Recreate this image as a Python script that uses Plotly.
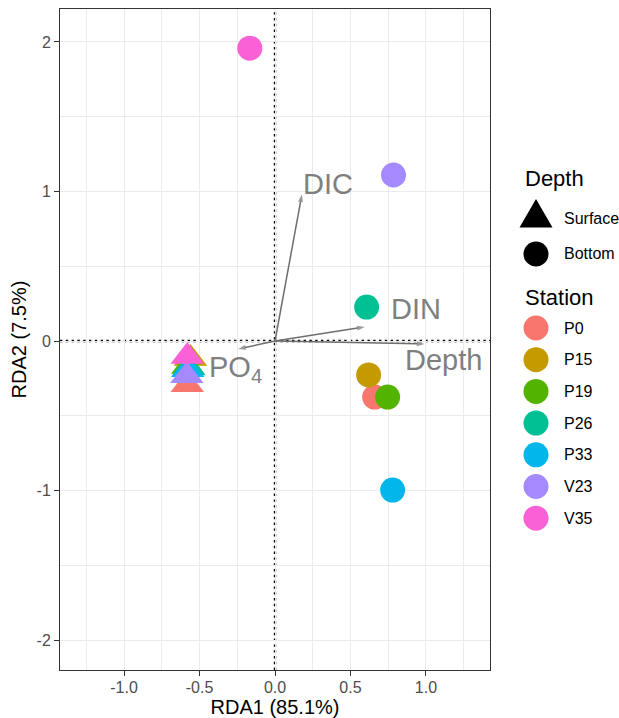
import plotly.graph_objects as go

# ---------------- data ----------------
stations = ["P0", "P15", "P19", "P26", "P33", "V23", "V35"]
station_colors = ["#F8766D", "#C49A00", "#53B400", "#00C094", "#00B6EB", "#A58AFF", "#FB61D7"]

surface_rda1 = [-0.581, -0.560, -0.578, -0.570, -0.578, -0.584, -0.581]
surface_rda2 = [-0.293, -0.117, -0.170, -0.180, -0.192, -0.232, -0.104]

bottom_rda1 = [0.660, 0.620, 0.746, 0.607, 0.779, 0.785, -0.167]
bottom_rda2 = [-0.375, -0.227, -0.375, 0.227, -0.997, 1.110, 1.958]

env_labels = ["DIC", "DIN", "Depth", "PO<sub>4</sub>"]
env_rda1 = [0.178, 0.594, 0.990, -0.244]
env_rda2 = [0.980, 0.094, -0.020, -0.054]
label_rda1 = [0.172, 0.755, 0.845, -0.452]
label_rda2 = [1.050, 0.217, -0.127, -0.190]

depth_levels = ["Surface", "Bottom"]
x_ticks = [-1.0, -0.5, 0.0, 0.5, 1.0]
y_ticks = [-2, -1, 0, 1, 2]

FONT = "Liberation Sans, Arial, sans-serif"
ARROW_COL = "#6E6E6E"

fig = go.Figure()

# environmental vectors (lines from origin with arrowheads)
for lab, ex, ey in zip(env_labels, env_rda1, env_rda2):
    fig.add_trace(go.Scatter(
        x=[0, ex], y=[0, ey], mode="lines+markers",
        line=dict(color=ARROW_COL, width=1.5),
        marker=dict(symbol="arrow", size=[0, 8], angleref="previous", color=ARROW_COL,
                    line=dict(width=0)),
        name=lab, showlegend=False, hoverinfo="skip"))

fig.add_trace(go.Scatter(
    x=surface_rda1, y=surface_rda2, mode="markers",
    marker=dict(symbol="triangle-up", size=29, color=station_colors, line=dict(width=0)),
    text=stations, name="Surface", showlegend=False, hoverinfo="text+x+y"))

fig.add_trace(go.Scatter(
    x=bottom_rda1, y=bottom_rda2, mode="markers",
    marker=dict(symbol="circle", size=25, color=station_colors, line=dict(width=0)),
    text=stations, name="Bottom", showlegend=False, hoverinfo="text+x+y"))

annotations = []
for lab, lx, ly in zip(env_labels, label_rda1, label_rda2):
    annotations.append(dict(
        x=lx, y=ly, xref="x", yref="y", text=lab, showarrow=False,
        xanchor="left", yanchor="middle",
        font=dict(family=FONT, size=29, color="#7F7F7F")))

DOT = dict(color="black", width=2.4, dash="2.4px,3.4px")
shapes = [
    dict(type="line", xref="x", yref="y domain", x0=0, x1=0, y0=0, y1=1, line=DOT, layer="below"),
    dict(type="line", xref="x domain", yref="y", x0=0, x1=1, y0=0, y1=0, line=DOT, layer="below"),
]

# ---------------- manual legend ----------------
L, T, PW, PH = 60, 9, 430, 661


def px(xp):
    return (xp - L) / PW


def py(yp):
    return (T + PH - yp) / PH


key_x = px(536)
text_x = px(562)
title_x = px(523)

annotations.append(dict(x=title_x, y=py(178), xref="paper", yref="paper", text="Depth",
                        showarrow=False, xanchor="left", yanchor="middle",
                        font=dict(family=FONT, size=22, color="black")))
depth_y = [218, 254]
for i, lev in enumerate(depth_levels):
    annotations.append(dict(x=text_x, y=py(depth_y[i]), xref="paper", yref="paper", text=lev,
                            showarrow=False, xanchor="left", yanchor="middle",
                            font=dict(family=FONT, size=16, color="black")))
shapes.append(dict(type="path", xref="paper", yref="paper", xsizemode="pixel", ysizemode="pixel",
                   xanchor=key_x, yanchor=py(depth_y[0]),
                   path="M -16.5,-9.5 L 16.5,-9.5 L 0,19 Z",
                   fillcolor="black", line=dict(width=0)))
shapes.append(dict(type="circle", xref="paper", yref="paper", xsizemode="pixel", ysizemode="pixel",
                   xanchor=key_x, yanchor=py(depth_y[1]), x0=-12.5, x1=12.5, y0=-12.5, y1=12.5,
                   fillcolor="black", line=dict(width=0)))

annotations.append(dict(x=title_x, y=py(297), xref="paper", yref="paper", text="Station",
                        showarrow=False, xanchor="left", yanchor="middle",
                        font=dict(family=FONT, size=22, color="black")))
for i, (st, col) in enumerate(zip(stations, station_colors)):
    yy = py(328 + i * 31.7)
    shapes.append(dict(type="circle", xref="paper", yref="paper", xsizemode="pixel", ysizemode="pixel",
                       xanchor=key_x, yanchor=yy, x0=-12.5, x1=12.5, y0=-12.5, y1=12.5,
                       fillcolor=col, line=dict(width=0)))
    annotations.append(dict(x=text_x, y=yy, xref="paper", yref="paper", text=st,
                            showarrow=False, xanchor="left", yanchor="middle",
                            font=dict(family=FONT, size=16, color="black")))

axis_common = dict(
    showline=True, mirror=True, linecolor="#333333", linewidth=1,
    showgrid=True, gridcolor="#EBEBEB", gridwidth=1.2, zeroline=False,
    ticks="outside", ticklen=5, tickwidth=1, tickcolor="#333333",
    tickfont=dict(family=FONT, size=16, color="#4D4D4D"),
)

fig.update_layout(
    width=619, height=718,
    margin=dict(l=L, r=619 - L - PW, t=T, b=718 - T - PH, autoexpand=False),
    paper_bgcolor="white", plot_bgcolor="white",
    font=dict(family=FONT),
    xaxis=dict(range=[-1.424, 1.424], tickvals=x_ticks, ticktext=[f"{v:.1f}" for v in x_ticks],
               ticklabelstandoff=-2,
               minor=dict(dtick=0.25, tick0=0, showgrid=True, gridcolor="#EBEBEB", gridwidth=0.8, ticks=""),
               title=dict(text="RDA1 (85.1%)", font=dict(family=FONT, size=20, color="black"), standoff=6),
               **axis_common),
    yaxis=dict(range=[-2.2, 2.22], tickvals=y_ticks, ticktext=[str(v) for v in y_ticks],
               minor=dict(dtick=0.5, tick0=0, showgrid=True, gridcolor="#EBEBEB", gridwidth=0.8, ticks=""),
               title=dict(text="RDA2 (7.5%)", font=dict(family=FONT, size=20, color="black"), standoff=4),
               **axis_common),
    shapes=shapes,
    annotations=annotations,
    showlegend=False,
)

fig.write_html("out.html", config={"displayModeBar": False},
               post_script="document.body.style.margin='0px';document.body.style.overflow='hidden';")
